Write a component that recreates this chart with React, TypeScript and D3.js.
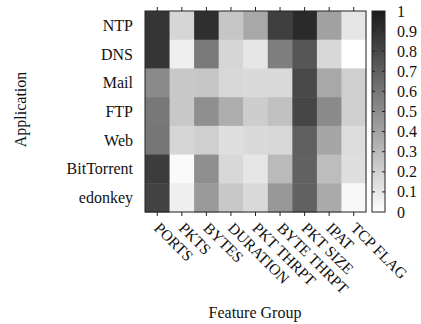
import React from "react";
import * as d3 from "d3";

const apps = ["NTP", "DNS", "Mail", "FTP", "Web", "BitTorrent", "edonkey"];
const features = ["PORTS", "PKTS", "BYTES", "DURATION", "PKT THRPT", "BYTE THRPT", "PKT SIZE", "IPAT", "TCP FLAG"];
const rowNTP = [0.88, 0.18, 0.91, 0.25, 0.38, 0.84, 0.93, 0.41, 0.11];
const rowDNS = [0.88, 0.07, 0.58, 0.18, 0.11, 0.56, 0.74, 0.17, 0.0];
const rowMail = [0.51, 0.24, 0.25, 0.17, 0.16, 0.16, 0.8, 0.38, 0.21];
const rowFTP = [0.59, 0.24, 0.49, 0.36, 0.22, 0.27, 0.81, 0.51, 0.21];
const rowWeb = [0.6, 0.18, 0.21, 0.14, 0.16, 0.17, 0.7, 0.39, 0.15];
const rowBitTorrent = [0.85, 0.02, 0.49, 0.17, 0.11, 0.3, 0.69, 0.29, 0.14];
const rowEdonkey = [0.82, 0.07, 0.44, 0.24, 0.16, 0.45, 0.69, 0.37, 0.03];
const matrix = [rowNTP, rowDNS, rowMail, rowFTP, rowWeb, rowBitTorrent, rowEdonkey];
const cbTicks = [0, 0.1, 0.2, 0.3, 0.4, 0.5, 0.6, 0.7, 0.8, 0.9, 1];

const W = 421, H = 324;
const left = 145, right = 366, top = 11, bottom = 212;
const cbL = 372, cbR = 385;
const font = "'Liberation Serif', 'DejaVu Serif', serif";

export default function App() {
  const x = d3.scaleBand().domain(features).range([left, right]).padding(0);
  const y = d3.scaleBand().domain(apps).range([top, bottom]).padding(0);
  const color = d3.scaleLinear<string>().domain([0, 1]).range(["#ffffff", "#1a1a1a"]);
  const cy = d3.scaleLinear().domain([0, 1]).range([bottom, top]);
  const stops = d3.range(0, 1.0001, 0.1);

  return (
    <svg width={W} height={H} style={{ position: "absolute", left: 0, top: 0 }} fontFamily={font}>
      <defs>
        <linearGradient id="cb" x1="0" y1="1" x2="0" y2="0">
          {stops.map((s) => (
            <stop key={s} offset={s} stopColor={color(s)} />
          ))}
        </linearGradient>
      </defs>
      {matrix.map((row, j) =>
        row.map((v, i) => (
          <rect
            key={`${j}-${i}`}
            x={x(features[i])!}
            y={y(apps[j])!}
            width={x.bandwidth() + 0.5}
            height={y.bandwidth() + 0.5}
            fill={color(v)}
          />
        ))
      )}
      <rect x={left} y={top} width={right - left} height={bottom - top} fill="none" stroke="#222" strokeWidth={1} />
      {features.map((f) => {
        const cx = x(f)! + x.bandwidth() / 2;
        return (
          <g key={f}>
            <line x1={cx} x2={cx} y1={top} y2={top - 4} stroke="#222" />
            <line x1={cx} x2={cx} y1={bottom} y2={bottom + 4} stroke="#222" />
            <text
              transform={`translate(${cx + 4},${bottom + 9}) rotate(45)`}
              fontSize={15.5}
              fill="#111"
              dominantBaseline="hanging"
            >
              {f}
            </text>
          </g>
        );
      })}
      {apps.map((a) => (
        <text
          key={a}
          x={133}
          y={y(a)! + y.bandwidth() / 2}
          textAnchor="end"
          dominantBaseline="central"
          fontSize={16}
          fill="#111"
        >
          {a}
        </text>
      ))}
      <rect x={cbL} y={top} width={cbR - cbL} height={bottom - top} fill="url(#cb)" stroke="#222" strokeWidth={1} />
      {cbTicks.map((t) => (
        <g key={t}>
          {t > 0 && t < 1 && (
            <>
              <line x1={cbL} x2={cbL + 3} y1={cy(t)} y2={cy(t)} stroke="#222" />
              <line x1={cbR - 3} x2={cbR} y1={cy(t)} y2={cy(t)} stroke="#222" />
            </>
          )}
          <text x={397} y={cy(t)} dominantBaseline="central" fontSize={16} fill="#111">
            {String(t)}
          </text>
        </g>
      ))}
      <text
        transform={`translate(20,${(top + bottom) / 2 - 2}) rotate(-90)`}
        textAnchor="middle"
        dominantBaseline="central"
        fontSize={16}
        fill="#111"
      >
        Application
      </text>
      <text x={255} y={312} textAnchor="middle" dominantBaseline="central" fontSize={16} fill="#111">
        Feature Group
      </text>
    </svg>
  );
}
